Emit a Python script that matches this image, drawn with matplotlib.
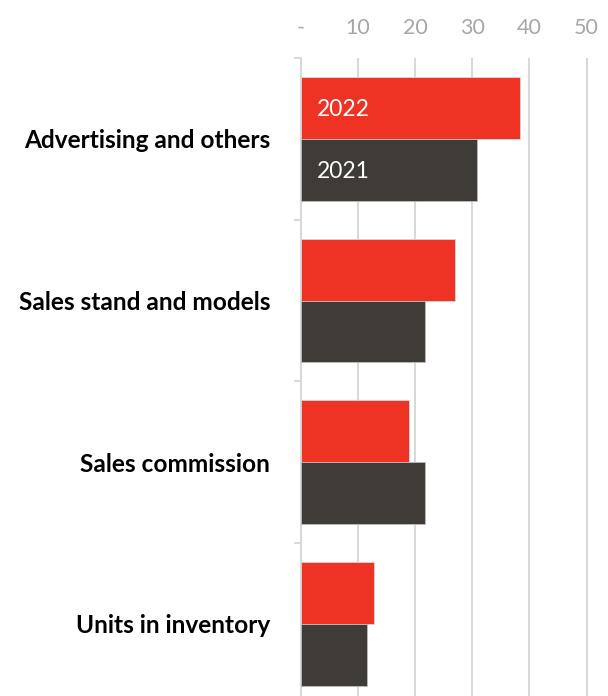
import numpy as np
import matplotlib
matplotlib.use("Agg")
import matplotlib.pyplot as plt
from matplotlib.ticker import FixedLocator, FuncFormatter

## Expense categories and values for the two years
categories = ["Advertising and others", "Sales stand and models",
              "Sales commission", "Units in inventory"]
values_2022 = [38.3, 27.0, 18.9, 12.8]
values_2021 = [30.8, 21.8, 21.7, 11.6]
series_names = ["2022", "2021"]

red = "#EE3324"
dark = "#3F3B36"
grid_col = "#D9D9D9"

plt.rcParams["font.family"] = ["Lato", "DejaVu Sans"]

fig = plt.figure(figsize=(6.08, 6.96), dpi=100)
## axes runs a bit past the bottom of the figure
ax = fig.add_axes([300.7 / 608, -0.0126, 303 / 608, 0.9293])

y = np.arange(len(categories))
h = 0.383
ax.barh(y - h / 2, values_2022, height=h, color=red, edgecolor="#d8d8d8",
        linewidth=0.6, zorder=3)
ax.barh(y + h / 2, values_2021, height=h, color=dark, edgecolor="#bcbcbc",
        linewidth=0.6, zorder=3)

## series names written inside the first pair of bars
ax.annotate(series_names[0], (0, y[0] - h / 2), xytext=(11.5, -1.5),
            textcoords="offset points", va="center", ha="left",
            color="white", fontsize=16.5, zorder=4)
ax.annotate(series_names[1], (0, y[0] + h / 2), xytext=(11.5, -1.5),
            textcoords="offset points", va="center", ha="left",
            color="white", fontsize=16.5, zorder=4)

ax.set_xlim(0, 53)
ax.set_ylim(len(categories) - 0.5, -0.5)

## x axis on top, zero shown as a dash
ax.xaxis.tick_top()
ax.set_xticks([0, 10, 20, 30, 40, 50])
ax.xaxis.set_major_formatter(FuncFormatter(lambda v, p: "-" if v == 0 else f"{v:.0f}"))
ax.tick_params(axis="x", length=0, pad=14.5, labelsize=15.5, labelcolor="#A6A6A6")
ax.grid(axis="x", color=grid_col, linewidth=1.5, zorder=0)

## category labels, with ticks between groups
ax.set_yticks(y)
ax.set_yticklabels(categories, fontweight="bold", fontsize=17.6, color="black")
ax.tick_params(axis="y", which="major", length=0, pad=22)
ax.yaxis.set_minor_locator(FixedLocator(np.arange(-0.5, len(categories), 1)))
ax.tick_params(axis="y", which="minor", length=5, width=1.5, color=grid_col,
               direction="out")

for s in ["top", "right", "bottom"]:
    ax.spines[s].set_visible(False)
ax.spines["left"].set_color(grid_col)
ax.spines["left"].set_linewidth(1.5)

fig.savefig("out.png", dpi=100)
